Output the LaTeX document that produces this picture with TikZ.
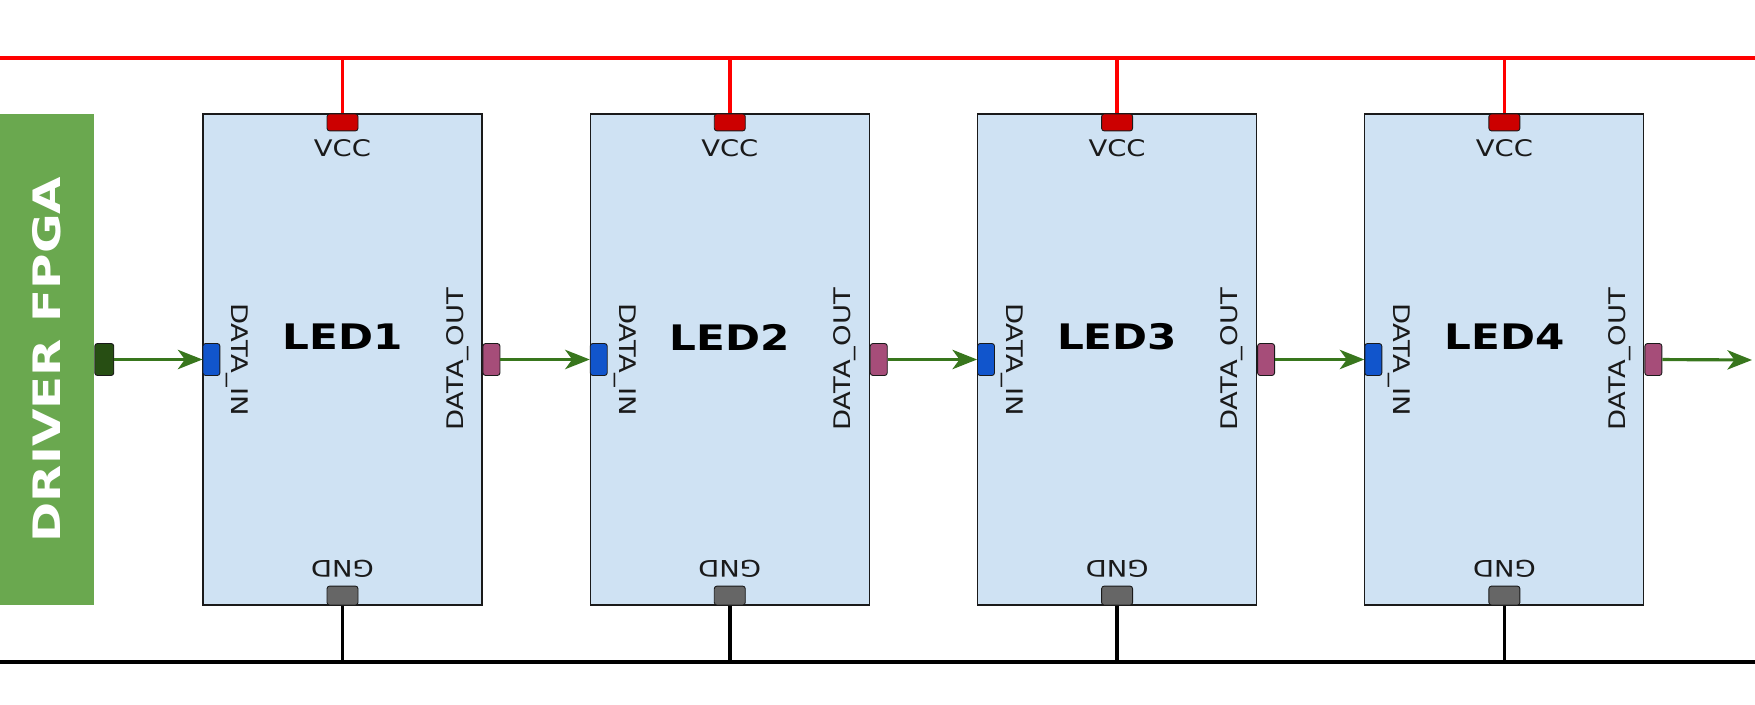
\documentclass[tikz,border=0pt]{standalone}
\usepackage{fontspec}
\setmainfont{DejaVu Sans}[FakeStretch=1.2]
\newfontfamily\widefont{DejaVu Sans}[FakeStretch=1.28]
\usepackage{tikz}
\usetikzlibrary{arrows.meta, positioning}

\definecolor{ledfill}{HTML}{CFE2F3}
\definecolor{fpgagreen}{HTML}{6AA84F}
\definecolor{vccred}{HTML}{CC0000}
\definecolor{gndgray}{HTML}{666666}
\definecolor{dinblue}{HTML}{1155CC}
\definecolor{doutpink}{HTML}{A64D79}
\definecolor{fpgapin}{HTML}{274E13}
\definecolor{dataarrow}{HTML}{38761D}
\definecolor{edge}{HTML}{1A1A1A}

\tikzset{
  ledbox/.style={draw=edge, line width=0.6pt, fill=ledfill, minimum width=5.58cm, minimum height=9.82cm, inner sep=0pt},
  fpgabox/.style={fill=fpgagreen, minimum width=1.88cm, minimum height=9.82cm, inner sep=0pt},
  pin/.style={draw=edge, line width=0.5pt, rounded corners=1.5pt, inner sep=0pt},
  vccpin/.style={pin, fill=vccred, minimum width=0.62cm, minimum height=0.34cm},
  gndpin/.style={pin, fill=gndgray, minimum width=0.62cm, minimum height=0.38cm},
  dinpin/.style={pin, fill=dinblue, minimum width=0.34cm, minimum height=0.64cm},
  doutpin/.style={pin, fill=doutpink, minimum width=0.34cm, minimum height=0.64cm},
  outpin/.style={pin, fill=fpgapin, minimum width=0.38cm, minimum height=0.64cm},
  pinlabel/.style={text=edge, inner sep=0pt, font=\fontsize{13}{15}\selectfont},
  ledlabel/.style={inner sep=0pt, font=\fontsize{20}{23}\selectfont\bfseries},
  fpgalabel/.style={text=white, inner sep=0pt, font=\fontsize{21.5}{24}\selectfont\widefont\bfseries},
  vccline/.style={draw=red, line width=2pt},
  gndline/.style={draw=black, line width=2pt},
  dataline/.style={draw=dataarrow, line width=1.8pt}
}

\begin{document}
\begin{tikzpicture}[>={Stealth[length=14pt, width=11pt, inset=4pt]}]
\useasboundingbox (0,0) rectangle (35.1,14.08);

% power and ground rails
\coordinate (vccl) at (0,12.92);
\coordinate (vccr) at (35.1,12.92);
\coordinate (gndl) at (0,0.84);
\coordinate (gndr) at (35.1,0.84);
\coordinate (dataend) at (35.04,6.88);

% driver
\node[fpgabox] (fpga) at (0.94,6.89) {};
\node[fpgalabel, rotate=90] (fpgalbl) at (fpga) {DRIVER FPGA};
\node[outpin, anchor=west] (fpgaout) at (fpga.east) {};

% LED chain
\node[ledbox] (led1) at (6.85,6.89) {};
\node[ledbox] (led2) at (14.596,6.89) {};
\node[ledbox] (led3) at (22.342,6.89) {};
\node[ledbox] (led4) at (30.088,6.89) {};

\node[ledlabel] (name1) at ([yshift=0.45cm]led1.center) {LED1};
\node[ledlabel] (name2) at ([yshift=0.45cm]led2.center) {LED2};
\node[ledlabel] (name3) at ([yshift=0.45cm]led3.center) {LED3};
\node[ledlabel] (name4) at ([yshift=0.45cm]led4.center) {LED4};

% pins
\node[vccpin, anchor=north] (vcc1) at (led1.north) {};
\node[vccpin, anchor=north] (vcc2) at (led2.north) {};
\node[vccpin, anchor=north] (vcc3) at (led3.north) {};
\node[vccpin, anchor=north] (vcc4) at (led4.north) {};
\node[gndpin, anchor=south] (gnd1) at (led1.south) {};
\node[gndpin, anchor=south] (gnd2) at (led2.south) {};
\node[gndpin, anchor=south] (gnd3) at (led3.south) {};
\node[gndpin, anchor=south] (gnd4) at (led4.south) {};
\node[dinpin, anchor=west] (din1) at (led1.west) {};
\node[dinpin, anchor=west] (din2) at (led2.west) {};
\node[dinpin, anchor=west] (din3) at (led3.west) {};
\node[dinpin, anchor=west] (din4) at (led4.west) {};
\node[doutpin, anchor=west] (dout1) at (led1.east) {};
\node[doutpin, anchor=west] (dout2) at (led2.east) {};
\node[doutpin, anchor=west] (dout3) at (led3.east) {};
\node[doutpin, anchor=west] (dout4) at (led4.east) {};

% pin labels
\node[pinlabel] (vcclbl1) at ([yshift=-0.7cm]led1.north) {VCC};
\node[pinlabel] (vcclbl2) at ([yshift=-0.7cm]led2.north) {VCC};
\node[pinlabel] (vcclbl3) at ([yshift=-0.7cm]led3.north) {VCC};
\node[pinlabel] (vcclbl4) at ([yshift=-0.7cm]led4.north) {VCC};
\node[pinlabel, rotate=180] (gndlbl1) at ([yshift=0.74cm]led1.south) {GND};
\node[pinlabel, rotate=180] (gndlbl2) at ([yshift=0.74cm]led2.south) {GND};
\node[pinlabel, rotate=180] (gndlbl3) at ([yshift=0.74cm]led3.south) {GND};
\node[pinlabel, rotate=180] (gndlbl4) at ([yshift=0.74cm]led4.south) {GND};
\node[pinlabel, rotate=-90] (dinlbl1) at ([xshift=0.7cm]led1.west) {DATA\_IN};
\node[pinlabel, rotate=-90] (dinlbl2) at ([xshift=0.7cm]led2.west) {DATA\_IN};
\node[pinlabel, rotate=-90] (dinlbl3) at ([xshift=0.7cm]led3.west) {DATA\_IN};
\node[pinlabel, rotate=-90] (dinlbl4) at ([xshift=0.7cm]led4.west) {DATA\_IN};
\node[pinlabel, rotate=90] (doutlbl1) at ([xshift=-0.5cm]led1.east) {DATA\_OUT};
\node[pinlabel, rotate=90] (doutlbl2) at ([xshift=-0.5cm]led2.east) {DATA\_OUT};
\node[pinlabel, rotate=90] (doutlbl3) at ([xshift=-0.5cm]led3.east) {DATA\_OUT};
\node[pinlabel, rotate=90] (doutlbl4) at ([xshift=-0.5cm]led4.east) {DATA\_OUT};

% rails
\draw[vccline] (vccl) -- (vccr);
\draw[gndline] (gndl) -- (gndr);
\draw[vccline] (vcc1.north) -- (vcc1.north |- vccl);
\draw[vccline] (vcc2.north) -- (vcc2.north |- vccl);
\draw[vccline] (vcc3.north) -- (vcc3.north |- vccl);
\draw[vccline] (vcc4.north) -- (vcc4.north |- vccl);
\draw[gndline] (gnd1.south) -- (gnd1.south |- gndl);
\draw[gndline] (gnd2.south) -- (gnd2.south |- gndl);
\draw[gndline] (gnd3.south) -- (gnd3.south |- gndl);
\draw[gndline] (gnd4.south) -- (gnd4.south |- gndl);

% data
\draw[dataline, ->] (fpgaout) -- (din1);
\draw[dataline, ->] (dout1) -- (din2);
\draw[dataline, ->] (dout2) -- (din3);
\draw[dataline, ->] (dout3) -- (din4);
\draw[dataline, ->] (dout4) -- (dataend);
\end{tikzpicture}
\end{document}
